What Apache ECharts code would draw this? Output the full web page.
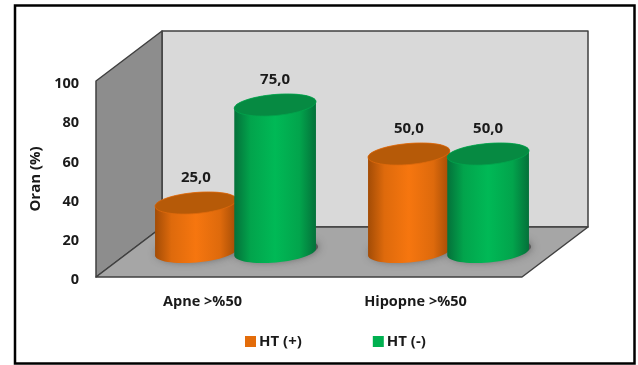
<!DOCTYPE html>
<html>
<head>
<meta charset="utf-8">
<style>html,body{margin:0;padding:0;background:#fff}#c{width:638px;height:365px}</style>
<script src="https://cdn.jsdelivr.net/npm/echarts@6/dist/echarts.min.js"></script>
</head>
<body>
<div id="c"></div>
<script>
const categories = ['Apne >%50', 'Hipopne >%50'];
const yTicks = [0, 20, 40, 60, 80, 100];
const seriesNames = ['HT (+)', 'HT (-)'];
const htPositive = [25, 50];
const htNegative = [75, 50];

const FONT = '"Open Sans", "Noto Sans", sans-serif';
const INK = '#1a1a1a';
// Room depth in pixels: the back wall sits this far from the front plane.
const DEPTH_X = 66, DEPTH_Y = -50;
const RX = 41, RY = 10.5, TILT = -5 * Math.PI / 180;

const palette = [
  { edge: '#a34c06', soft: '#de6a0c', mid: '#f6760f', top: '#b65a08', legend: '#e36c0a' },
  { edge: '#04713a', soft: '#02a44c', mid: '#00b956', top: '#068a42', legend: '#00b050' }
];

// Point on a tilted ellipse, t in radians.
function onEllipse(cx, cy, t) {
  const ex = RX * Math.cos(t), ey = RY * Math.sin(t);
  return [cx + ex * Math.cos(TILT) - ey * Math.sin(TILT),
          cy + ex * Math.sin(TILT) + ey * Math.cos(TILT)];
}
function ellipsePoints(cx, cy) {
  const pts = [];
  for (let i = 0; i < 64; i++) pts.push(onEllipse(cx, cy, i / 64 * Math.PI * 2));
  return pts;
}
// Centre of a cylinder's base and top, standing mid-way into the room.
function cylinderAxis(api, seriesIdx) {
  const base = api.coord([api.value(0), 0]);
  const top = api.coord([api.value(0), api.value(1)]);
  const shift = (seriesIdx === 0 ? -1 : 1) * api.size([1, 0])[0] * 0.186;
  return {
    x: base[0] + DEPTH_X / 2 + shift,
    yBase: base[1] + DEPTH_Y / 2,
    yTop: top[1] + DEPTH_Y / 2
  };
}
function formatValue(v) { return v.toFixed(1).replace('.', ','); }

function renderRoom(params, api) {
  const a = api.coord([0, 0]), b = api.coord([1, 100]);
  const band = api.size([1, 0])[0];
  const x0 = a[0] - band / 2, x1 = b[0] + band / 2, y0 = a[1], y1 = b[1];
  const dx = DEPTH_X, dy = DEPTH_Y;
  const line = { stroke: '#404040', lineWidth: 1.5, lineJoin: 'round' };
  return {
    type: 'group',
    children: [
      { type: 'polygon', shape: { points: [[x0 + dx, y1 + dy], [x1 + dx, y1 + dy], [x1 + dx, y0 + dy], [x0 + dx, y0 + dy]] },
        style: Object.assign({ fill: '#d9d9d9' }, line) },
      { type: 'polygon', shape: { points: [[x0, y1], [x0 + dx, y1 + dy], [x0 + dx, y0 + dy], [x0, y0]] },
        style: Object.assign({ fill: '#8d8d8d' }, line) },
      { type: 'polygon', shape: { points: [[x0, y0], [x0 + dx, y0 + dy], [x1 + dx, y0 + dy], [x1, y0]] },
        style: Object.assign({ fill: '#a6a6a6' }, line) }
    ]
  };
}

function renderShadow(params, api) {
  const ax = cylinderAxis(api, api.value(2));
  return {
    type: 'polygon',
    shape: { points: ellipsePoints(ax.x + 2, ax.yBase - 2) },
    style: { fill: 'rgba(70,70,70,0.75)', shadowBlur: 9, shadowColor: 'rgba(50,50,50,0.9)' }
  };
}

function cylinderRenderer(seriesIdx) {
  return function (params, api) {
    const c = palette[seriesIdx];
    const ax = cylinderAxis(api, seriesIdx);
    const side = [];
    // Lower half of the base, then the upper half of the top, back to the start.
    for (let i = 0; i <= 32; i++) side.push(onEllipse(ax.x, ax.yBase, Math.PI - i / 32 * Math.PI));
    for (let i = 0; i <= 32; i++) side.push(onEllipse(ax.x, ax.yTop, i / 32 * -Math.PI));
    return {
      type: 'group',
      children: [
        { type: 'polygon', shape: { points: side },
          style: { fill: new echarts.graphic.LinearGradient(0, 0, 1, 0, [
            { offset: 0, color: c.edge },
            { offset: 0.2, color: c.soft },
            { offset: 0.5, color: c.mid },
            { offset: 0.8, color: c.soft },
            { offset: 1, color: c.edge }]) } },
        { type: 'polygon', shape: { points: ellipsePoints(ax.x, ax.yTop) },
          style: { fill: c.top, stroke: c.soft, lineWidth: 0.8 } },
        { type: 'text', x: ax.x, y: ax.yTop - 25,
          style: { text: formatValue(api.value(1)), fill: INK, font: '700 15px ' + FONT, align: 'center', verticalAlign: 'middle' } }
      ]
    };
  };
}

const shadowData = [];
htPositive.forEach((v, i) => shadowData.push([i, v, 0]));
htNegative.forEach((v, i) => shadowData.push([i, v, 1]));

const chart = echarts.init(document.getElementById('c'), null, { renderer: 'canvas' });
chart.setOption({
  animation: false,
  backgroundColor: '#fff',
  textStyle: { fontFamily: FONT },
  grid: { left: 96, right: 116, top: 81, bottom: 88 },
  xAxis: {
    type: 'category', data: categories,
    axisLine: { show: false }, axisTick: { show: false }, splitLine: { show: false },
    axisLabel: { color: INK, fontWeight: 700, fontSize: 14.5, margin: 17 }
  },
  yAxis: {
    type: 'value', min: yTicks[0], max: yTicks[yTicks.length - 1], interval: 20,
    name: 'Oran (%)', nameLocation: 'middle', nameGap: 51, nameRotate: 90,
    nameTextStyle: { color: INK, fontWeight: 700, fontSize: 15 },
    axisLine: { show: false }, axisTick: { show: false }, splitLine: { show: false },
    axisLabel: { color: INK, fontWeight: 700, fontSize: 14.5, margin: 17, verticalAlign: 'top', lineHeight: 6 }
  },
  legend: {
    data: seriesNames, left: 240, top: 329, itemWidth: 11, itemHeight: 11, itemGap: 71, icon: 'rect',
    textStyle: { color: INK, fontWeight: 700, fontSize: 15, padding: [0, 0, 0, -2] }
  },
  graphic: [{
    type: 'rect', silent: true, z: 100,
    shape: { x: 15, y: 5.5, width: 619.5, height: 358 },
    style: { fill: 'transparent', stroke: '#000', lineWidth: 2.5 }
  }],
  series: [
    { name: 'room', type: 'custom', z: 1, silent: true, renderItem: renderRoom, data: [[0, 0]], clip: false },
    { name: 'shadow', type: 'custom', z: 2, silent: true, renderItem: renderShadow, data: shadowData, clip: false },
    { name: seriesNames[0], type: 'custom', z: 3, renderItem: cylinderRenderer(0), clip: false,
      itemStyle: { color: palette[0].legend },
      data: htPositive.map((v, i) => [i, v]), encode: { x: 0, y: 1 } },
    { name: seriesNames[1], type: 'custom', z: 4, renderItem: cylinderRenderer(1), clip: false,
      itemStyle: { color: palette[1].legend },
      data: htNegative.map((v, i) => [i, v]), encode: { x: 0, y: 1 } }
  ]
});
</script>
</body>
</html>
